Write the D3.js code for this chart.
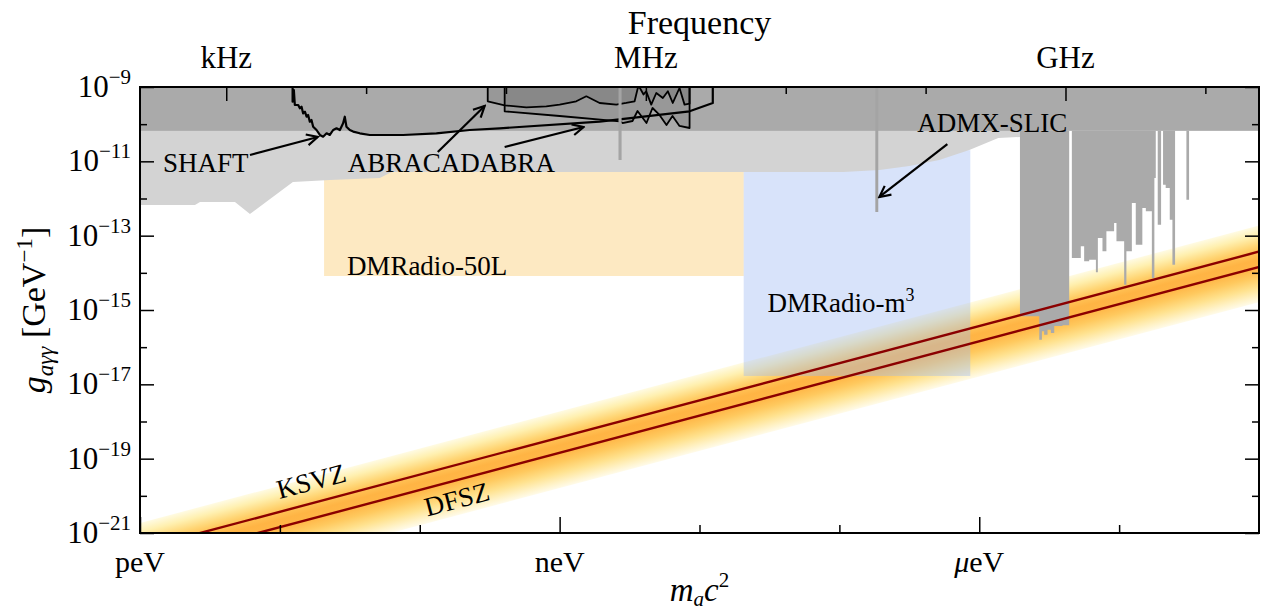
<!DOCTYPE html>
<html>
<head>
<meta charset="utf-8">
<script src="https://cdn.jsdelivr.net/npm/d3@7"></script>
<style>
body{margin:0;background:#fff;}
svg{display:block;}
text{font-family:"Liberation Serif","DejaVu Serif",serif;}
</style>
</head>
<body>
<svg id="chart" width="1265" height="616"></svg>
<script>
// axis ranges: axion mass in eV, coupling in GeV^-1
var massRange=[1e-12,1e-4];
var couplingRange=[1e-21,1e-9];
var massTicks=[1e-12,1e-9,1e-6];
var massTickLabels=["peV","neV","\u03bceV"];
var massMinor=[1e-11,1e-10,1e-8,1e-7,1e-5];
var freqTicks=[1e3,1e6,1e9];        // Hz
var freqTickLabels=["kHz","MHz","GHz"];
var freqMinor=[1e4,1e5,1e7,1e8,1e10];
var couplingTicks=[-9,-11,-13,-15,-17,-19,-21];  // exponents
var couplingMinor=[-10,-12,-14,-16,-18,-20];
var planck=4.135667e-15; // eV s

// everything below is [log10(m/eV), log10(g*GeV)]
var castLimit=-10.18;
var astroEdge=[[-12,-12.175],[-11.607,-12.175],[-11.571,-12.094],[-11.321,-12.094],[-11.214,-12.417],
  [-10.907,-11.556],[-10.643,-11.502],[-10.286,-11.448],[-10.2,-11.287],[-6.971,-11.287],[-6.714,-11.233],
  [-6.5,-11.125],[-6.286,-10.964],[-6.071,-10.695],[-5.864,-10.372],[-5.707,-10.345]];
var dmradio50L=[[-10.684,-14.085],[-7.684,-11.0]];
var dmradioM3=[[-7.684,-16.775],[-6.064,-10.7]];
var shaftCurve=[[-10.909,-9],[-10.909,-9.395],[-10.9,-9.081],[-10.893,-9.484],[-10.869,-9.484],[-10.857,-9.573],
  [-10.845,-9.53],[-10.834,-9.708],[-10.821,-9.665],[-10.809,-9.799],[-10.798,-9.753],[-10.786,-9.934],
  [-10.774,-9.888],[-10.762,-10.068],[-10.738,-10.157],[-10.714,-10.291],[-10.691,-10.337],[-10.666,-10.246],
  [-10.643,-10.291],[-10.619,-10.157],[-10.595,-10.111],[-10.571,-10.157],[-10.548,-9.977],[-10.536,-9.8],
  [-10.524,-10.068],[-10.5,-10.157],[-10.476,-10.2],[-10.429,-10.246],[-10.357,-10.291],[-10.119,-10.291],
  [-9.881,-10.246],[-9.643,-10.157],[-9.429,-10.111],[-8.714,-9.934],[-8.071,-9.654],[-7.905,-9.43],[-7.905,-9]];
var abraRun1=[[-9.514,-9],[-9.514,-9.385],[-9.393,-9.492],[-9.238,-9.546],[-9.095,-9.519],[-9.0,-9.474],
  [-8.881,-9.385],[-8.809,-9.25],[-8.714,-9.43],[-8.595,-9.474],[-8.524,-9.43],[-8.464,-9.385],[-8.441,-9.027],
  [-8.43,-9],[-8.4,-9.2],[-8.381,-9.116],[-8.345,-9.474],[-8.309,-9.161],[-8.262,-9.296],[-8.226,-9.116],[-8.191,-9.43],
  [-8.143,-9.027],[-8.107,-9.474],[-8.071,-9.45],[-8.071,-9]];
var abraRun2=[[-9.393,-9],[-9.393,-9.654],[-9.0,-9.78],[-8.571,-9.923],[-8.55,-9.969],[-8.479,-9.915],
  [-8.443,-9.646],[-8.379,-9.969],[-8.336,-9.565],[-8.286,-9.753],[-8.236,-10.022],[-8.193,-9.78],
  [-8.143,-10.049],[-8.071,-10.103],[-8.071,-9]];
var baseLine=[[-8.579,-8.557],-10.964];
var admxSlic=[[-6.743,-6.722],-12.363];
// haloscopes: step start mass and reach (null = no limit there)
var haloscopeSteps=[[-5.709,-15.169],[-5.571,-15.798],[-5.552,-15.573],[-5.536,-15.664],[-5.512,-15.529],
  [-5.488,-15.618],[-5.464,-15.43],[-5.405,-15.411],[-5.357,null],[-5.338,-13.6],[-5.274,-13.286],
  [-5.25,-13.689],[-5.214,-13.646],[-5.166,-13.985],[-5.152,-13.062],[-5.119,-13.42],[-5.091,-12.882],
  [-5.036,-12.659],[-5.019,-13.151],[-4.964,-14.319],[-4.948,-13.42],[-4.909,-12.121],[-4.881,-13.243],
  [-4.834,-12.255],[-4.809,-12.344],[-4.766,-14.139],[-4.748,-11.448],[-4.738,null],[-4.724,-12.705],
  [-4.7,null],[-4.686,-11.628],[-4.667,-11.717],[-4.638,-12.57],[-4.619,-13.781],[-4.6,null],
  [-4.519,-12.032],[-4.5,null]];
var ksvz=-9.429, dfsz=-9.843;   // log10 g = log10 m + k
var bandAbove=0.7, bandBelow=0.95;

var labels=[
  {t:"SHAFT",at:[-11.836,-11.29]},
  {t:"ABRACADABRA",at:[-10.514,-11.29]},
  {t:"DMRadio-50L",at:[-10.521,-14.058]},
  {t:"DMRadio-m",sup:"3",at:[-7.514,-15.053]},
  {t:"ADMX-SLIC",at:[-6.443,-10.211]}
];
var arrows=[
  [[-11.214,-10.829],[-10.729,-10.345]],
  [[-9.871,-10.749],[-9.536,-9.511]],
  [[-9.393,-10.614],[-8.829,-10.076]],
  [[-6.228,-10.54],[-6.714,-11.959]]
];
var modelLabels=[{t:"KSVZ",at:[-10.771,-19.681]},{t:"DFSZ",at:[-9.729,-20.165]}];

var svg=d3.select("#chart");
var x=d3.scaleLog().domain(massRange).range([140,1259]);
var y=d3.scaleLog().domain(couplingRange).range([533,87]);
var freq=d3.scaleLog().domain([massRange[0]/planck,massRange[1]/planck]).range([140,1259]);
function px(p){return x(Math.pow(10,p[0]));}
function py(p){return y(Math.pow(10,p[1]));}
var line=d3.line().x(px).y(py);

var defs=svg.append("defs");
defs.append("clipPath").attr("id","plotClip").append("rect")
  .attr("x",x(massRange[0])).attr("y",y(couplingRange[1]))
  .attr("width",x(massRange[1])-x(massRange[0])).attr("height",y(couplingRange[0])-y(couplingRange[1]));

// gradient across the QCD axion band
var bTop=ksvz+bandAbove, bBot=dfsz-bandBelow, m0=-8;
var P=[px([m0]),py([0,m0+bTop])];
var slope=(py([0,m0+bTop])-py([0,m0+1+bTop]))/(px([m0+1])-px([m0]));
var dv=py([0,m0+bBot])-P[1];
var f=dv/(1+slope*slope);
var grad=defs.append("linearGradient").attr("id","band").attr("gradientUnits","userSpaceOnUse")
  .attr("x1",P[0]).attr("y1",P[1]).attr("x2",P[0]+slope*f).attr("y2",P[1]+f);
[[0,"#fffbe3"],[0.12,"#fff0b0"],[0.25,"#ffd676"],[0.34,"#ffc256"],[0.44,"#ffb444"],[0.54,"#ffb647"],
 [0.66,"#ffc95e"],[0.8,"#ffe28f"],[0.92,"#fff2c6"],[1,"#fffbea"]].forEach(function(s){
  grad.append("stop").attr("offset",s[0]).attr("stop-color",s[1]);
});

defs.append("marker").attr("id","head").attr("viewBox","0 0 14 14").attr("refX",12).attr("refY",7)
  .attr("markerWidth",14).attr("markerHeight",14).attr("markerUnits","userSpaceOnUse").attr("orient","auto")
  .append("path").attr("d","M1,1.5 L12,7 L1,12.5").attr("fill","none").attr("stroke","#000").attr("stroke-width",2.2);

var plot=svg.append("g").attr("clip-path","url(#plotClip)");

// axion band
var lo=-12.5, hi=-3.5;
plot.append("path").attr("d",line([[lo,lo+bTop],[hi,hi+bTop],[hi,hi+bBot],[lo,lo+bBot]])+"Z")
  .attr("fill","url(#band)");

// DMRadio projections
plot.append("rect").attr("x",px(dmradio50L[0])).attr("y",py(dmradio50L[1]))
  .attr("width",px(dmradio50L[1])-px(dmradio50L[0])).attr("height",py(dmradio50L[0])-py(dmradio50L[1]))
  .attr("fill","#fde9c2");
plot.append("rect").attr("x",px(dmradioM3[0])).attr("y",py(dmradioM3[1]))
  .attr("width",px(dmradioM3[1])-px(dmradioM3[0])).attr("height",py(dmradioM3[0])-py(dmradioM3[1]))
  .attr("fill","rgb(157,185,242)").attr("fill-opacity",0.4);

// astrophysical bounds
var astroPoly=[[astroEdge[0][0],-9]].concat(astroEdge,[[astroEdge[astroEdge.length-1][0],-9]]);
plot.append("path").attr("d",line(astroPoly)+"Z").attr("fill","#d3d3d3");

// CAST
plot.append("rect").attr("x",x(massRange[0])).attr("y",y(couplingRange[1]))
  .attr("width",x(massRange[1])-x(massRange[0])).attr("height",py([0,castLimit])-y(couplingRange[1]))
  .attr("fill","#aaaaaa");

// haloscopes
var halo=[[haloscopeSteps[0][0],castLimit]];
haloscopeSteps.forEach(function(s,i){
  if(i==haloscopeSteps.length-1){halo.push([s[0],castLimit]);return;}
  var g=s[1]===null?castLimit:s[1];
  halo.push([s[0],g]);
  halo.push([haloscopeSteps[i+1][0],g]);
});
plot.append("path").attr("d",line(halo)+"Z").attr("fill","#aaaaaa");

// SHAFT
plot.append("path").attr("d",line(shaftCurve)+"Z").attr("fill","#aaaaaa");
plot.append("path").attr("d",line(shaftCurve)).attr("fill","none").attr("stroke","#000").attr("stroke-width",2.2).attr("stroke-linejoin","round");

// ABRACADABRA runs
[abraRun2,abraRun1].forEach(function(run){
  plot.append("path").attr("d",line(run)+"Z").attr("fill","#000").attr("fill-opacity",0.1);
  plot.append("path").attr("d",line(run)).attr("fill","none").attr("stroke","#000").attr("stroke-width",1.8).attr("stroke-linejoin","round");
});

// narrow limits (BASE, ADMX-SLIC)
[baseLine,admxSlic].forEach(function(b){
  plot.append("rect").attr("x",px([b[0][0]])).attr("y",y(couplingRange[1]))
    .attr("width",px([b[0][1]])-px([b[0][0]])).attr("height",py([0,b[1]])-y(couplingRange[1]))
    .attr("fill","#a4a4a4");
});

// KSVZ / DFSZ lines
[ksvz,dfsz].forEach(function(k){
  plot.append("path").attr("d",line([[lo,lo+k],[hi,hi+k]])).attr("stroke","#8b0000").attr("stroke-width",2.4).attr("fill","none");
});

// frame and ticks
function tickSet(axis,tr,vals,size){
  svg.append("g").attr("transform",tr)
    .call(axis.tickValues(vals).tickSizeInner(-size).tickSizeOuter(0).tickFormat(""))
    .call(function(g){g.select(".domain").remove();})
    .selectAll("line").attr("stroke","#000").attr("stroke-width",1.5);
}
tickSet(d3.axisBottom(x),"translate(0,533)",massTicks,16);
tickSet(d3.axisBottom(x),"translate(0,533)",massMinor,8);
tickSet(d3.axisTop(freq),"translate(0,87)",freqTicks,14);
tickSet(d3.axisTop(freq),"translate(0,87)",freqMinor,7);
tickSet(d3.axisLeft(y),"translate(140,0)",couplingTicks.map(function(e){return Math.pow(10,e);}),14);
tickSet(d3.axisLeft(y),"translate(140,0)",couplingMinor.map(function(e){return Math.pow(10,e);}),7);
tickSet(d3.axisRight(y),"translate(1259,0)",couplingTicks.map(function(e){return Math.pow(10,e);}),14);
tickSet(d3.axisRight(y),"translate(1259,0)",couplingMinor.map(function(e){return Math.pow(10,e);}),7);

svg.append("rect").attr("x",x(massRange[0])).attr("y",y(couplingRange[1]))
  .attr("width",x(massRange[1])-x(massRange[0])).attr("height",y(couplingRange[0])-y(couplingRange[1]))
  .attr("fill","none").attr("stroke","#000").attr("stroke-width",2);

function txt(){return svg.append("text").attr("fill","#000");}

// tick labels
massTicks.forEach(function(m,i){
  var t=txt().attr("x",x(m)).attr("y",572).attr("text-anchor","middle").attr("font-size",30);
  if(massTickLabels[i].charAt(0)=="\u03bc"){
    t.append("tspan").attr("font-style","italic").text("\u03bc");
    t.append("tspan").text(massTickLabels[i].slice(1));
  } else t.text(massTickLabels[i]);
});
freqTicks.forEach(function(fq,i){
  txt().attr("x",freq(fq)).attr("y",68).attr("text-anchor","middle").attr("font-size",31).text(freqTickLabels[i]);
});
couplingTicks.forEach(function(e){
  var t=txt().attr("x",131).attr("y",y(Math.pow(10,e))+10).attr("text-anchor","end").attr("font-size",31);
  t.append("tspan").text("10");
  t.append("tspan").attr("font-size",21).attr("dy",-13).text("\u2212"+(-e));
});

// axis titles
txt().attr("x",(x(massRange[0])+x(massRange[1]))/2).attr("y",34).attr("text-anchor","middle").attr("font-size",34).text("Frequency");
var xl=txt().attr("x",(x(massRange[0])+x(massRange[1]))/2).attr("y",601).attr("text-anchor","middle").attr("font-size",33).attr("font-style","italic");
xl.append("tspan").text("m");
xl.append("tspan").attr("font-size",21).attr("dy",5).text("a");
xl.append("tspan").attr("dy",-5).text("c");
xl.append("tspan").attr("font-size",21).attr("dy",-14).attr("font-style","normal").text("2");
var yl=txt().attr("transform","translate(45,"+((y(couplingRange[0])+y(couplingRange[1]))/2)+") rotate(-90)")
  .attr("text-anchor","middle").attr("font-size",34);
yl.append("tspan").attr("font-style","italic").text("g");
yl.append("tspan").attr("font-style","italic").attr("font-size",23).attr("dy",8).text("a\u03b3\u03b3");
yl.append("tspan").attr("dy",-8).text(" [GeV");
yl.append("tspan").attr("font-size",23).attr("dy",-13).text("\u22121");
yl.append("tspan").attr("dy",13).text("]");

// annotations
labels.forEach(function(l){
  var t=txt().attr("x",px(l.at)).attr("y",py(l.at)).attr("font-size",27).text(l.t);
  if(l.sup) t.append("tspan").attr("font-size",18).attr("dy",-11).text(l.sup);
});
arrows.forEach(function(a){
  svg.append("path").attr("d",line(a)).attr("stroke","#000").attr("stroke-width",2.2).attr("fill","none").attr("marker-end","url(#head)");
});
var ang=-Math.atan(slope)*180/Math.PI;
modelLabels.forEach(function(l){
  txt().attr("transform","translate("+px(l.at)+","+py(l.at)+") rotate("+ang+")")
    .attr("text-anchor","middle").attr("dominant-baseline","middle").attr("font-size",27).text(l.t);
});
</script>
</body>
</html>
